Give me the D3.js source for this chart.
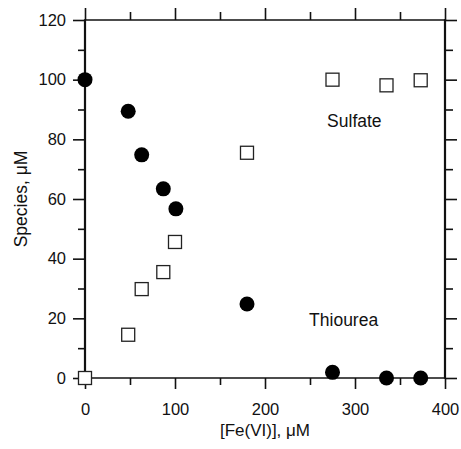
<!DOCTYPE html>
<html><head><meta charset="utf-8">
<script src="https://cdn.jsdelivr.net/npm/d3@7"></script>
<style>body{margin:0;background:#fff}svg{display:block}text{font-family:Arial,"Liberation Sans",sans-serif;fill:#111}</style>
</head><body>
<svg id="c" width="461" height="449"></svg>
<script>
const feVI = [0, 48, 63, 87, 101, 180, 275, 335, 373];
const thiourea = [100, 89.4, 74.8, 63.4, 56.7, 24.8, 1.9, 0, 0];
const sulfateX = [0, 48, 63, 87, 100, 180, 275, 335, 373];
const sulfate = [0, 14.5, 29.8, 35.5, 45.6, 75.5, 100, 98.1, 99.8];
const xTicks = [0, 100, 200, 300, 400];
const yTicks = [0, 20, 40, 60, 80, 100, 120];
const xTitle = "[Fe(VI)], μM";
const yTitle = "Species, μM";
const labels = [{text: "Sulfate", x: 269, y: 84}, {text: "Thiourea", x: 249, y: 17.4}];

const svg = d3.select("#c");
const L = 85, R = 445, T = 20, B = 378;
const x = d3.scaleLinear().domain([0, 400]).range([L, R]);
const y = d3.scaleLinear().domain([0, 120]).range([B, T]);
const stroke = "#111";

const xMinor = d3.range(50, 400, 100);
const yMinor = d3.range(10, 120, 20);

svg.append("g").attr("transform", `translate(0,${B})`)
  .call(d3.axisBottom(x).tickValues(xTicks).tickSize(11).tickPadding(14).tickFormat(d3.format("d")));
svg.append("g").attr("transform", `translate(0,${B})`)
  .call(d3.axisBottom(x).tickValues(xMinor).tickSize(7).tickFormat(""));
svg.append("g").attr("transform", `translate(0,${T})`)
  .call(d3.axisBottom(x).tickValues(xTicks).tickSize(-12).tickFormat(""));
svg.append("g").attr("transform", `translate(0,${T})`)
  .call(d3.axisBottom(x).tickValues(xMinor).tickSize(-8).tickFormat(""));
svg.append("g").attr("transform", `translate(${L},0)`)
  .call(d3.axisLeft(y).tickValues(yTicks).tickSize(12).tickPadding(7).tickFormat(d3.format("d")));
svg.append("g").attr("transform", `translate(${L},0)`)
  .call(d3.axisLeft(y).tickValues(yMinor).tickSize(7).tickFormat(""));
svg.append("g").attr("transform", `translate(${R},0)`)
  .call(d3.axisLeft(y).tickValues(yTicks).tickSize(-12).tickFormat(""));
svg.append("g").attr("transform", `translate(${R},0)`)
  .call(d3.axisLeft(y).tickValues(yMinor).tickSize(-8).tickFormat(""));

svg.selectAll(".domain").remove();
svg.selectAll(".tick line").attr("stroke", stroke).attr("stroke-width", 1.6);
svg.selectAll(".tick text").attr("font-size", 16.5).attr("fill", stroke)
  .style("font-family", "Arial, 'Liberation Sans', sans-serif");

svg.append("line").attr("x1", L).attr("x2", R).attr("y1", T).attr("y2", T).attr("stroke", stroke).attr("stroke-width", 1.5);
svg.append("line").attr("x1", L).attr("x2", R).attr("y1", B).attr("y2", B).attr("stroke", stroke).attr("stroke-width", 1.5);
svg.append("line").attr("x1", L).attr("x2", L).attr("y1", T - 0.75).attr("y2", B + 0.75).attr("stroke", stroke).attr("stroke-width", 2.2);
svg.append("line").attr("x1", R).attr("x2", R).attr("y1", T - 0.75).attr("y2", B + 0.75).attr("stroke", stroke).attr("stroke-width", 2.2);

const s = 13;
svg.append("g").selectAll("rect").data(sulfate.map((v, i) => [sulfateX[i], v])).join("rect")
  .attr("x", d => x(d[0]) - s / 2).attr("y", d => y(d[1]) - s / 2)
  .attr("width", s).attr("height", s)
  .attr("fill", "#fff").attr("stroke", "#222").attr("stroke-width", 1.3);

svg.append("g").selectAll("circle").data(thiourea.map((v, i) => [feVI[i], v])).join("circle")
  .attr("cx", d => x(d[0])).attr("cy", d => y(d[1])).attr("r", 7.5).attr("fill", "#000");

svg.selectAll(".lab").data(labels).join("text").attr("class", "lab")
  .attr("x", d => x(d.x)).attr("y", d => y(d.y)).attr("font-size", 17.5).text(d => d.text);

svg.append("text").attr("x", (L + R) / 2).attr("y", 436).attr("text-anchor", "middle")
  .attr("font-size", 17).text(xTitle);
svg.append("text").attr("transform", `translate(27,${(T + B) / 2}) rotate(-90)`).attr("text-anchor", "middle")
  .attr("font-size", 17.5).text(yTitle);
</script>
</body></html>
